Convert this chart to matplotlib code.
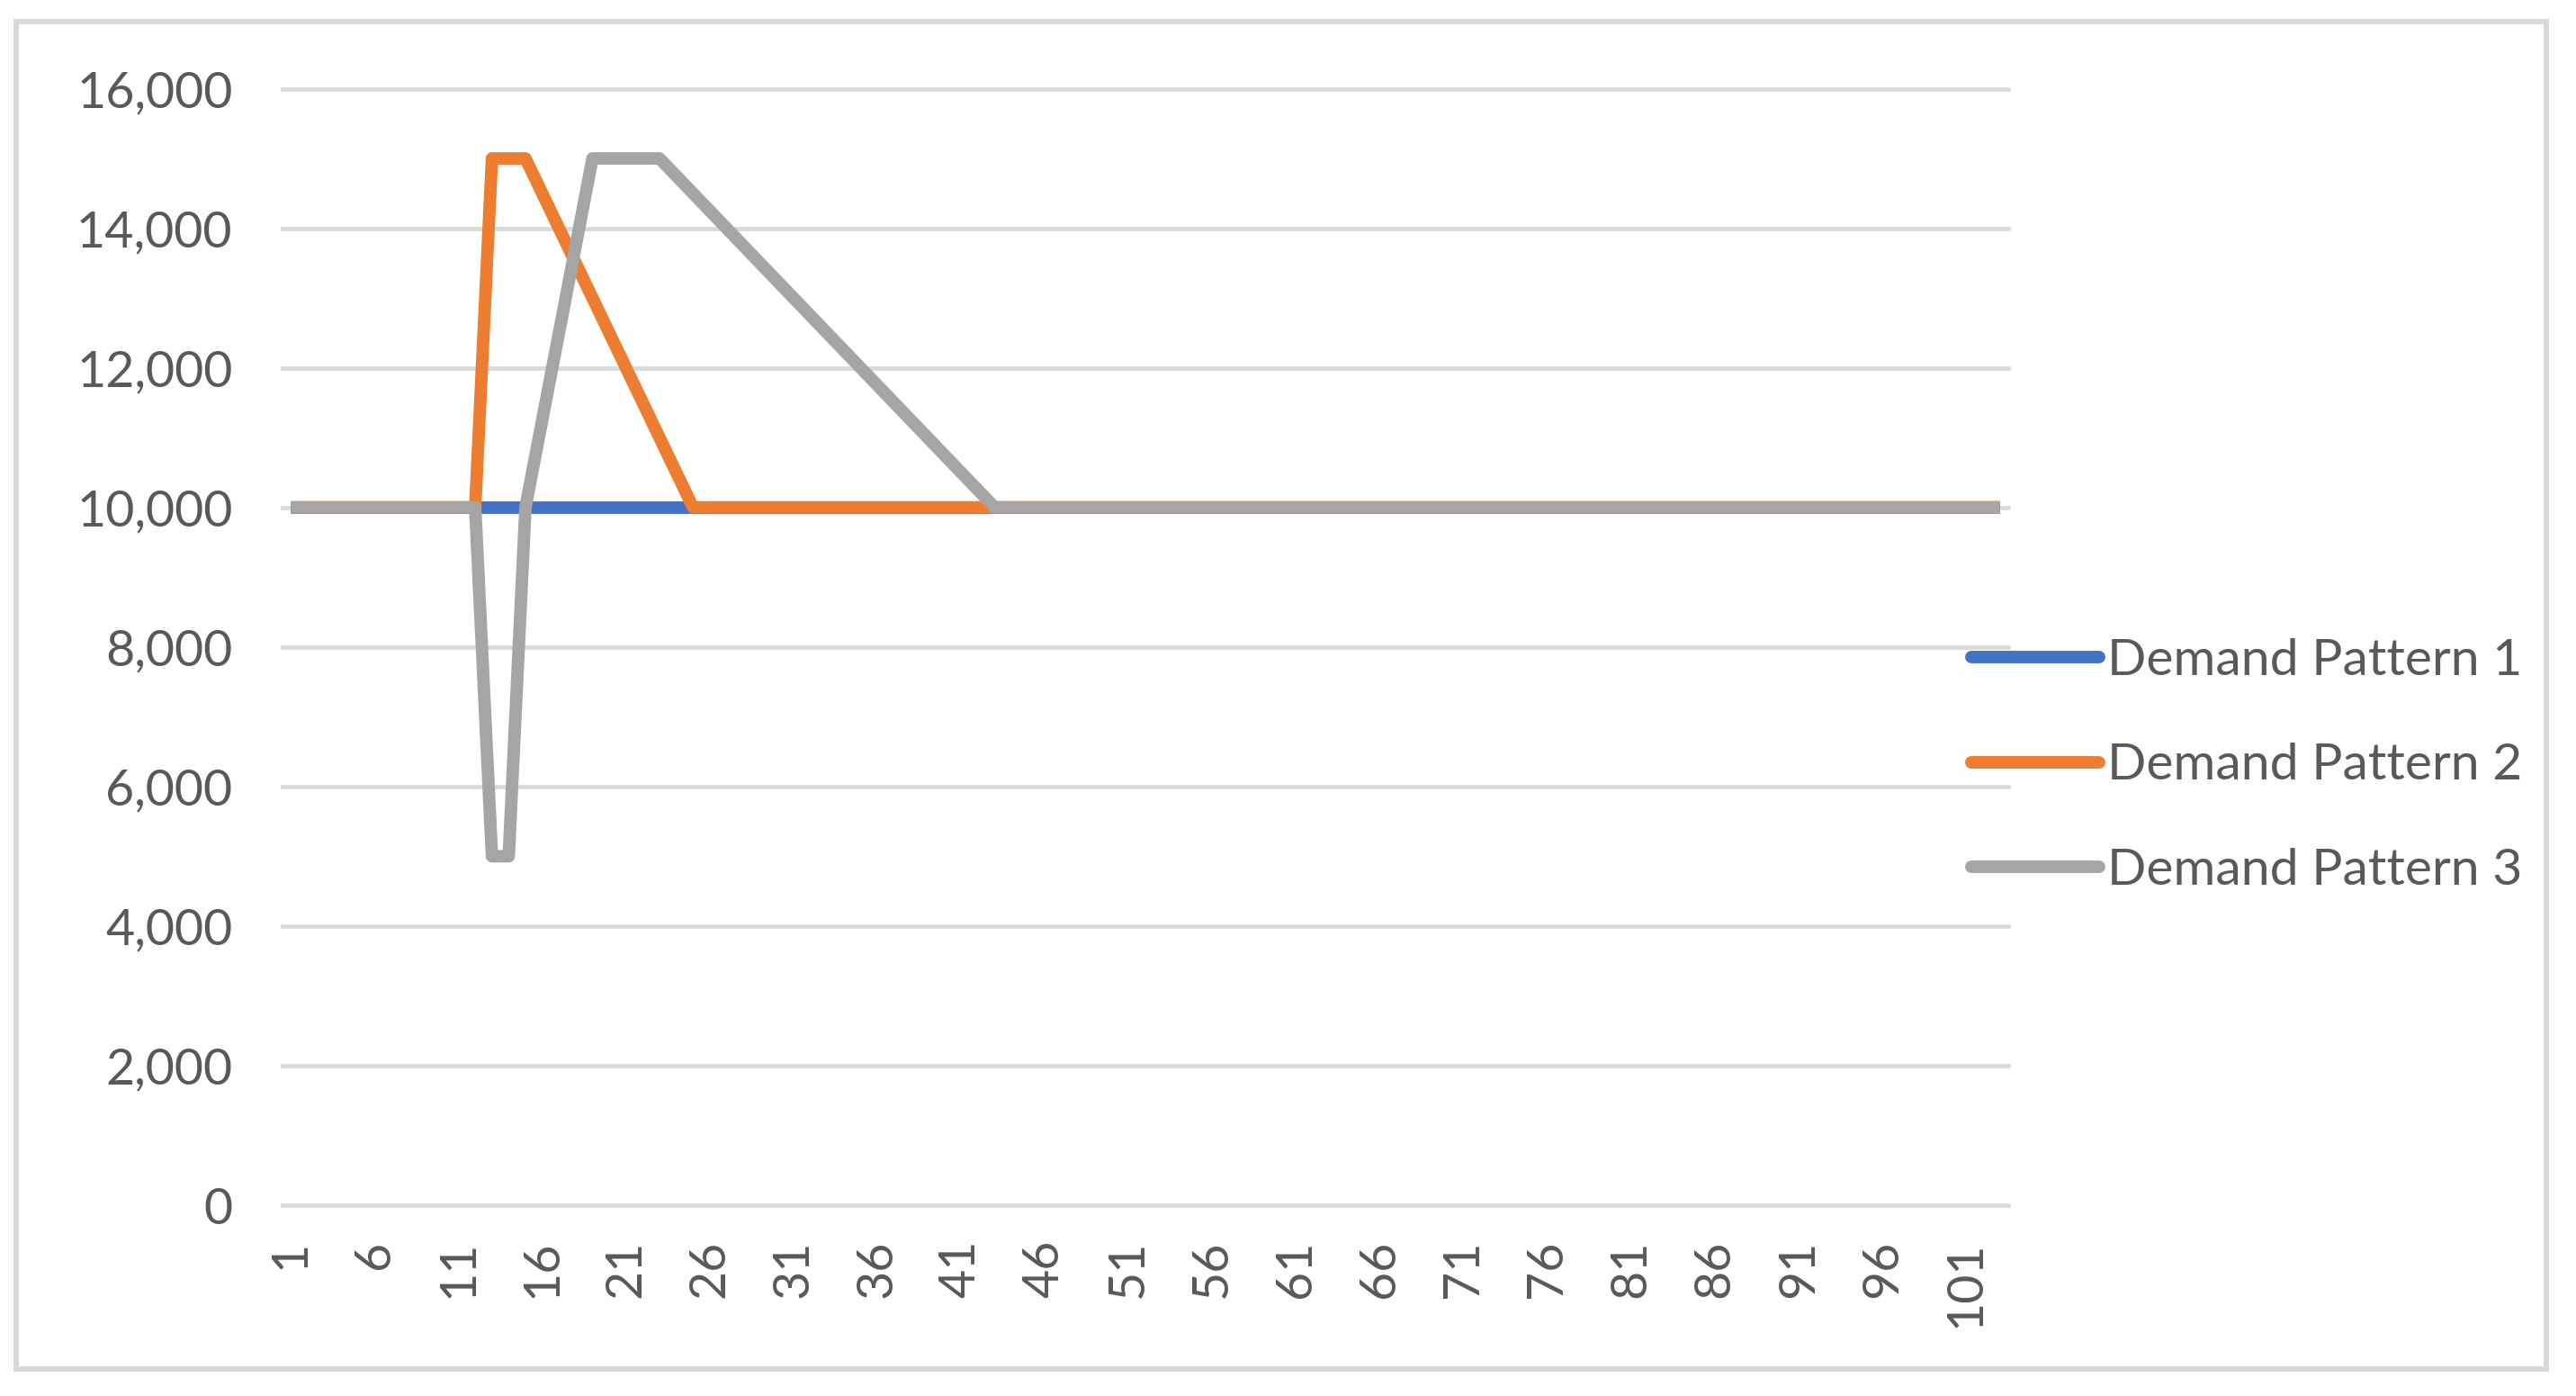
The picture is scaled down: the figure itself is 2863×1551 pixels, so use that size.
import numpy as np
import matplotlib
matplotlib.use('Agg')
import matplotlib.pyplot as plt
from matplotlib.patches import Rectangle
from matplotlib.ticker import FuncFormatter

plt.rcParams['font.family'] = ['Lato', 'DejaVu Sans']

# periods 1..103
periods = np.arange(1, 104)

pattern1 = [
    10000, 10000, 10000, 10000, 10000, 10000, 10000, 10000, 10000, 10000,
    10000, 10000, 10000, 10000, 10000, 10000, 10000, 10000, 10000, 10000,
    10000, 10000, 10000, 10000, 10000, 10000, 10000, 10000, 10000, 10000,
    10000, 10000, 10000, 10000, 10000, 10000, 10000, 10000, 10000, 10000,
    10000, 10000, 10000, 10000, 10000, 10000, 10000, 10000, 10000, 10000,
    10000, 10000, 10000, 10000, 10000, 10000, 10000, 10000, 10000, 10000,
    10000, 10000, 10000, 10000, 10000, 10000, 10000, 10000, 10000, 10000,
    10000, 10000, 10000, 10000, 10000, 10000, 10000, 10000, 10000, 10000,
    10000, 10000, 10000, 10000, 10000, 10000, 10000, 10000, 10000, 10000,
    10000, 10000, 10000, 10000, 10000, 10000, 10000, 10000, 10000, 10000,
    10000, 10000, 10000,
]

pattern2 = [
    10000, 10000, 10000, 10000, 10000, 10000, 10000, 10000, 10000, 10000,
    10000, 10000, 15000, 15000, 15000, 14500, 14000, 13500, 13000, 12500,
    12000, 11500, 11000, 10500, 10000, 10000, 10000, 10000, 10000, 10000,
    10000, 10000, 10000, 10000, 10000, 10000, 10000, 10000, 10000, 10000,
    10000, 10000, 10000, 10000, 10000, 10000, 10000, 10000, 10000, 10000,
    10000, 10000, 10000, 10000, 10000, 10000, 10000, 10000, 10000, 10000,
    10000, 10000, 10000, 10000, 10000, 10000, 10000, 10000, 10000, 10000,
    10000, 10000, 10000, 10000, 10000, 10000, 10000, 10000, 10000, 10000,
    10000, 10000, 10000, 10000, 10000, 10000, 10000, 10000, 10000, 10000,
    10000, 10000, 10000, 10000, 10000, 10000, 10000, 10000, 10000, 10000,
    10000, 10000, 10000,
]

pattern3 = [
    10000, 10000, 10000, 10000, 10000, 10000, 10000, 10000, 10000, 10000,
    10000, 10000, 5000, 5000, 10000, 11250, 12500, 13750, 15000, 15000,
    15000, 15000, 15000, 14750, 14500, 14250, 14000, 13750, 13500, 13250,
    13000, 12750, 12500, 12250, 12000, 11750, 11500, 11250, 11000, 10750,
    10500, 10250, 10000, 10000, 10000, 10000, 10000, 10000, 10000, 10000,
    10000, 10000, 10000, 10000, 10000, 10000, 10000, 10000, 10000, 10000,
    10000, 10000, 10000, 10000, 10000, 10000, 10000, 10000, 10000, 10000,
    10000, 10000, 10000, 10000, 10000, 10000, 10000, 10000, 10000, 10000,
    10000, 10000, 10000, 10000, 10000, 10000, 10000, 10000, 10000, 10000,
    10000, 10000, 10000, 10000, 10000, 10000, 10000, 10000, 10000, 10000,
    10000, 10000, 10000,
]

labels = ['Demand Pattern 1', 'Demand Pattern 2', 'Demand Pattern 3']
colors = ['#4472C4', '#ED7D31', '#A5A5A5']
yticks = [0, 2000, 4000, 6000, 8000, 10000, 12000, 14000, 16000]
xtick_periods = [1, 6, 11, 16, 21, 26, 31, 36, 41, 46, 51, 56, 61, 66, 71, 76, 81, 86, 91, 96, 101]

W, H = 2863, 1551
fig = plt.figure(figsize=(W / 100, H / 100), dpi=100)

# outer chart border
fig.patches.append(Rectangle((18 / W, 1 - 1521 / H), 2812 / W, 1497 / H,
                             transform=fig.transFigure, fill=False,
                             edgecolor='#D9D9D9', linewidth=4.3))

ax = fig.add_axes([314 / W, 1 - 1339 / H, (2232 - 314) / W, (1339 - 98.5) / H])

for vals, lab, col in zip([pattern1, pattern2, pattern3], labels, colors):
    ax.plot(periods, vals, color=col, lw=10, label=lab,
            solid_joinstyle='round', solid_capstyle='butt', zorder=3)

ax.set_xlim(0.5, 103.5)
ax.set_ylim(0, 16000)
ax.set_yticks(yticks)
ax.yaxis.set_major_formatter(FuncFormatter(lambda v, p: f'{int(v):,}'))
ax.set_xticks(xtick_periods)
ax.set_xticklabels([str(p) for p in xtick_periods], rotation=90)

ax.grid(axis='y', color='#D9D9D9', lw=3.4)
ax.grid(axis='x', visible=False)
for gl in ax.get_ygridlines():
    gl.set_clip_on(False)
ax.set_axisbelow(True)

for s in ax.spines.values():
    s.set_visible(False)
ax.tick_params(axis='both', length=0, colors='#595959', labelsize=40)
ax.tick_params(axis='y', pad=40)
ax.tick_params(axis='x', pad=28)

leg = ax.legend(loc='center left', bbox_to_anchor=(2191 / W, 1 - 851 / H),
                bbox_transform=fig.transFigure, frameon=False, fontsize=41,
                labelcolor='#595959', handlelength=2.5, handletextpad=0.15,
                labelspacing=1.15, borderpad=0, borderaxespad=0)
for h in leg.get_lines():
    h.set_linewidth(10)
    h.set_solid_capstyle('round')

plt.savefig('out.png', dpi=100)
